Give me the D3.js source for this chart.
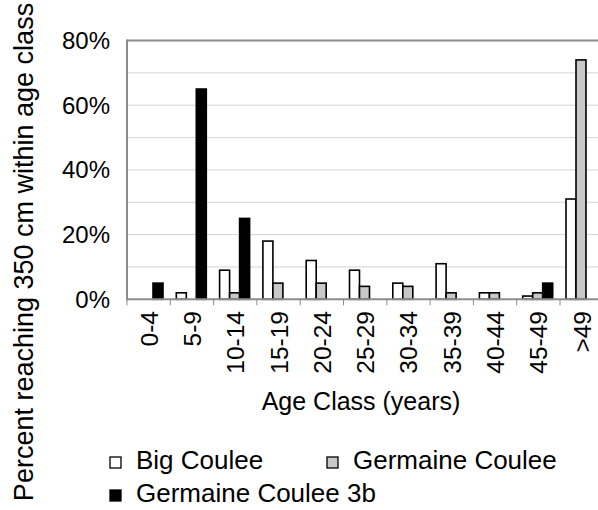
<!DOCTYPE html>
<html><head><meta charset="utf-8">
<script src="https://cdn.jsdelivr.net/npm/d3@7"></script>
<style>body{margin:0;background:#fff}svg{display:block}text{font-family:"Liberation Sans",Arial,sans-serif;fill:#000}</style>
</head><body>
<svg id="c" width="598" height="510"></svg>
<script>
const categories = ["0-4","5-9","10-14","15-19","20-24","25-29","30-34","35-39","40-44","45-49",">49"];
const seriesNames = ["Big Coulee","Germaine Coulee","Germaine Coulee 3b"];
const bigCoulee = [0,2,9,18,12,9,5,11,2,1,31];
const germaineCoulee = [0,0,2,5,5,4,4,2,2,2,74];
const germaine3b = [5,65,25,0,0,0,0,0,0,5,0];
const yTicks = [0,20,40,60,80];
const gridValues = [10,20,30,40,50,60,70];
const colors = ["#ffffff","#c8c8c8","#000000"];

const svg = d3.select("#c");
const L = 127, R = 603.3, T = 40.5, B = 299.3;
const x = d3.scaleBand().domain(categories).range([L, R]).padding(0);
const xs = d3.scaleBand().domain(seriesNames).range([6, 36]).padding(0);
const y = d3.scaleLinear().domain([0, 80]).range([B, T]);

// gridlines
svg.append("g").selectAll("line").data(gridValues).join("line")
  .attr("x1", L).attr("x2", 598).attr("y1", d => y(d)).attr("y2", d => y(d))
  .attr("stroke", "#d4d4d4").attr("stroke-width", 1);
// top border
svg.append("line").attr("x1", L).attr("x2", 598).attr("y1", y(80)).attr("y2", y(80))
  .attr("stroke", "#8c8c8c").attr("stroke-width", 2);

// bars
const series = [bigCoulee, germaineCoulee, germaine3b];
series.forEach((vals, si) => {
  svg.append("g").selectAll("rect")
    .data(vals.map((v, i) => ({c: categories[i], v})).filter(d => d.v > 0))
    .join("rect")
    .attr("x", d => x(d.c) + xs(seriesNames[si]))
    .attr("width", xs.bandwidth())
    .attr("y", d => y(d.v))
    .attr("height", d => y(0) - y(d.v))
    .attr("fill", colors[si])
    .attr("stroke", "#000").attr("stroke-width", 1.6);
});

// axes lines
svg.append("line").attr("x1", L).attr("x2", L).attr("y1", T - 1).attr("y2", B + 1)
  .attr("stroke", "#8c8c8c").attr("stroke-width", 2);
svg.append("line").attr("x1", L).attr("x2", 598).attr("y1", B).attr("y2", B)
  .attr("stroke", "#8c8c8c").attr("stroke-width", 2);
// x ticks at band boundaries
svg.append("g").selectAll("line").data(categories).join("line")
  .attr("x1", d => x(d)).attr("x2", d => x(d)).attr("y1", B).attr("y2", B + 6)
  .attr("stroke", "#8c8c8c").attr("stroke-width", 1);

// y tick labels
svg.append("g").selectAll("text").data(yTicks).join("text")
  .attr("x", 110).attr("y", d => y(d) + 8.5)
  .attr("text-anchor", "end").attr("font-size", 24)
  .text(d => d + "%");

// x tick labels
svg.append("g").selectAll("text").data(categories).join("text")
  .attr("transform", d => `translate(${x(d) + x.bandwidth() / 2 + 9},311) rotate(-90)`)
  .attr("text-anchor", "end").attr("font-size", 24.5)
  .text(d => d);

// x title
svg.append("text").attr("x", 361).attr("y", 410)
  .attr("text-anchor", "middle").attr("font-size", 25)
  .text("Age Class (years)");

// y title
svg.append("text").attr("transform", "translate(33,252) rotate(-90)")
  .attr("text-anchor", "middle").attr("font-size", 27)
  .text("Percent reaching 350 cm within age class");

// legend
const legendPos = [[110,457],[327,457],[110,490]];
seriesNames.forEach((n, i) => {
  const [lx, ly] = legendPos[i];
  svg.append("rect").attr("x", lx).attr("y", ly).attr("width", 11).attr("height", 11)
    .attr("fill", colors[i]).attr("stroke", "#000").attr("stroke-width", 1.3);
  svg.append("text").attr("x", lx + 26).attr("y", ly + 12)
    .attr("font-size", 26).text(n);
});
</script>
</body></html>
